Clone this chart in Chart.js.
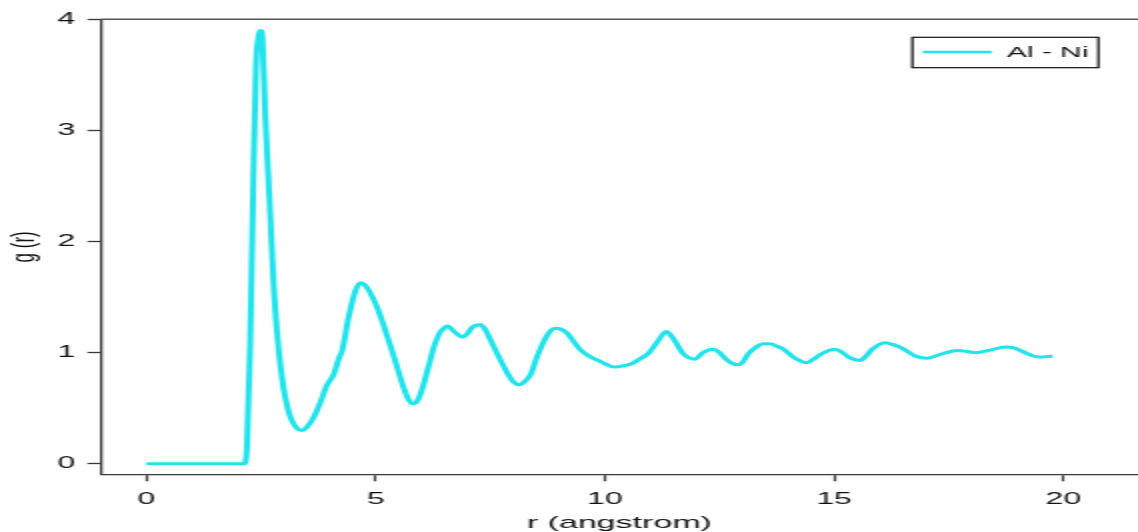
<!DOCTYPE html>
<html>
<head>
<meta charset="utf-8">
<script src="https://cdn.jsdelivr.net/npm/chart.js@4"></script>
<style>
  html, body { margin: 0; padding: 0; background: #fff; overflow: hidden; }
</style>
</head>
<body>
<!-- the source picture is an R plot stretched about 2x sideways, so the canvas is too -->
<canvas id="chart-rdf" width="569" height="532" style="width:1138px;height:532px"></canvas>
<script>
const seriesLabel = "Al - Ni";
const xTitle = "r (angstrom)";
const yTitle = "g (r)";
const xTicks = [0, 5, 10, 15, 20];
const yTicks = [0, 1, 2, 3, 4];

// r in angstrom
const rValues = [
  0, 0.5, 1, 1.5, 2, 2.13, 2.19, 2.26, 2.33, 2.39, 2.45, 2.49, 2.53, 2.59,
  2.65, 2.7, 2.77, 2.88, 2.99, 3.08, 3.17, 3.28, 3.38, 3.5, 3.65, 3.8, 3.94,
  4.08, 4.2, 4.27, 4.41, 4.56, 4.68, 4.76, 4.85, 5.03, 5.21, 5.4, 5.58, 5.7,
  5.8, 5.9, 5.98, 6.13, 6.27, 6.4, 6.49, 6.56, 6.71, 6.89, 7, 7.11, 7.29,
  7.4, 7.51, 7.58, 7.7, 7.88, 8, 8.13, 8.25, 8.39, 8.5, 8.68, 8.8, 8.93,
  9.05, 9.19, 9.3, 9.48, 9.65, 9.85, 10, 10.21, 10.4, 10.58, 10.75, 10.94,
  11.15, 11.34, 11.43, 11.52, 11.71, 11.8, 11.96, 12.14, 12.36, 12.5, 12.62,
  12.75, 12.89, 13, 13.13, 13.3, 13.46, 13.6, 13.79, 13.86, 14.15, 14.41,
  14.55, 14.73, 15.02, 15.15, 15.32, 15.57, 15.7, 15.83, 16.12, 16.3, 16.48,
  16.77, 17.03, 17.36, 17.69, 17.9, 18.09, 18.38, 18.74, 18.95, 19.11,
  19.47, 19.77
];
// g(r) values
const gValues = [
  0, 0, 0, 0, 0, 0, 0.14, 1.04, 2.54, 3.59, 3.86, 3.9, 3.82, 3.14,
  2.65, 2.24, 1.64, 1.04, 0.68, 0.5, 0.39, 0.32, 0.3, 0.33, 0.42, 0.56, 0.71,
  0.8, 0.95, 1.02, 1.32, 1.56, 1.63, 1.61, 1.56, 1.41, 1.2, 0.96, 0.72, 0.59,
  0.54, 0.56, 0.63, 0.84, 1.05, 1.18, 1.22, 1.24, 1.19, 1.14, 1.17, 1.23, 1.25,
  1.2, 1.11, 1.05, 0.95, 0.81, 0.74, 0.71, 0.74, 0.81, 0.94, 1.11, 1.19, 1.22,
  1.21, 1.17, 1.11, 1.02, 0.97, 0.93, 0.9, 0.87, 0.88, 0.9, 0.94, 0.99,
  1.1, 1.19, 1.16, 1.11, 0.99, 0.96, 0.94, 1, 1.03, 1, 0.95,
  0.91, 0.89, 0.91, 0.99, 1.05, 1.08, 1.08, 1.05, 1.04, 0.95, 0.91,
  0.94, 0.99, 1.03, 1.01, 0.96, 0.93, 0.97, 1.03, 1.09, 1.07, 1.04,
  0.97, 0.95, 0.99, 1.02, 1.01, 1, 1.02, 1.05, 1.04, 1.01,
  0.96, 0.97
];

const lineColor = "#22e3eb";
const axisColor = "#3a3a3a";
const textColor = "#111";
const fontFamily = "'Liberation Sans', Arial, sans-serif";

const points = rValues.map((r, i) => ({ x: r, y: gValues[i] }));

// R style box: only the top edge is left to draw, the right one is off the picture
const topBorder = {
  id: "topBorder",
  afterDraw(chart) {
    const { ctx, chartArea } = chart;
    ctx.save();
    ctx.strokeStyle = "#555";
    ctx.lineWidth = 1.4;
    ctx.beginPath();
    ctx.moveTo(chartArea.left, chartArea.top);
    ctx.lineTo(chartArea.right + 2, chartArea.top);
    ctx.stroke();
    ctx.restore();
  },
};

// boxed legend in the top right corner, like R's legend()
const boxLegend = {
  id: "boxLegend",
  afterDraw(chart) {
    const ctx = chart.ctx;
    const ds = chart.data.datasets[0];
    ctx.save();
    ctx.strokeStyle = "#111";
    ctx.lineWidth = 1.2;
    ctx.strokeRect(456.2, 37.3, 93, 30.4);
    ctx.strokeStyle = ds.borderColor;
    ctx.lineWidth = 2.6;
    ctx.beginPath();
    ctx.moveTo(461.4, 52);
    ctx.lineTo(495.9, 52);
    ctx.stroke();
    ctx.fillStyle = textColor;
    ctx.font = "15px " + fontFamily;
    ctx.textBaseline = "middle";
    ctx.fillText(ds.label, 503.4, 52.5);
    ctx.restore();
  },
};

const ctx = document.getElementById("chart-rdf");
const rdfChart = new Chart(ctx, {
  type: "line",
  data: {
    datasets: [
      {
        label: seriesLabel,
        data: points,
        borderColor: lineColor,
        backgroundColor: lineColor,
        borderWidth: 3,
        pointRadius: 0,
        fill: false,
        cubicInterpolationMode: "monotone",
      },
    ],
  },
  options: {
    responsive: false,
    animation: false,
    devicePixelRatio: 1,
    layout: { padding: { top: 19.3, right: 0, left: 0, bottom: 0 } },
    plugins: {
      legend: { display: false },
      tooltip: { enabled: false },
    },
    scales: {
      x: {
        type: "linear",
        min: -1,
        max: 21.63,
        afterFit: (scale) => { scale.height = 57.7; },
        afterBuildTicks: (scale) => { scale.ticks = xTicks.map((v) => ({ value: v })); },
        grid: {
          drawOnChartArea: false,
          drawTicks: true,
          tickLength: 7,
          tickWidth: 1.3,
          tickColor: axisColor,
        },
        border: { display: true, color: axisColor, width: 1.3 },
        ticks: {
          padding: 8.5,
          color: textColor,
          font: { family: fontFamily, size: 16 },
          maxRotation: 0,
        },
        title: {
          display: true,
          text: xTitle,
          color: textColor,
          font: { family: fontFamily, size: 17, lineHeight: 1 },
          padding: { top: 0, bottom: 0 },
        },
      },
      y: {
        type: "linear",
        min: -0.095,
        max: 4,
        afterFit: (scale) => { scale.width = 50.35; },
        afterBuildTicks: (scale) => { scale.ticks = yTicks.map((v) => ({ value: v })); },
        grid: {
          drawOnChartArea: false,
          drawTicks: true,
          tickLength: 6.6,
          tickWidth: 1.3,
          tickColor: axisColor,
        },
        border: { display: true, color: axisColor, width: 1.3 },
        ticks: {
          padding: 6,
          color: textColor,
          font: { family: fontFamily, size: 16 },
        },
        title: {
          display: true,
          text: yTitle,
          color: textColor,
          font: { family: fontFamily, size: 17, lineHeight: 1.2 },
          padding: { top: 2.3, bottom: 0 },
        },
      },
    },
  },
  plugins: [topBorder, boxLegend],
});
</script>
</body>
</html>
